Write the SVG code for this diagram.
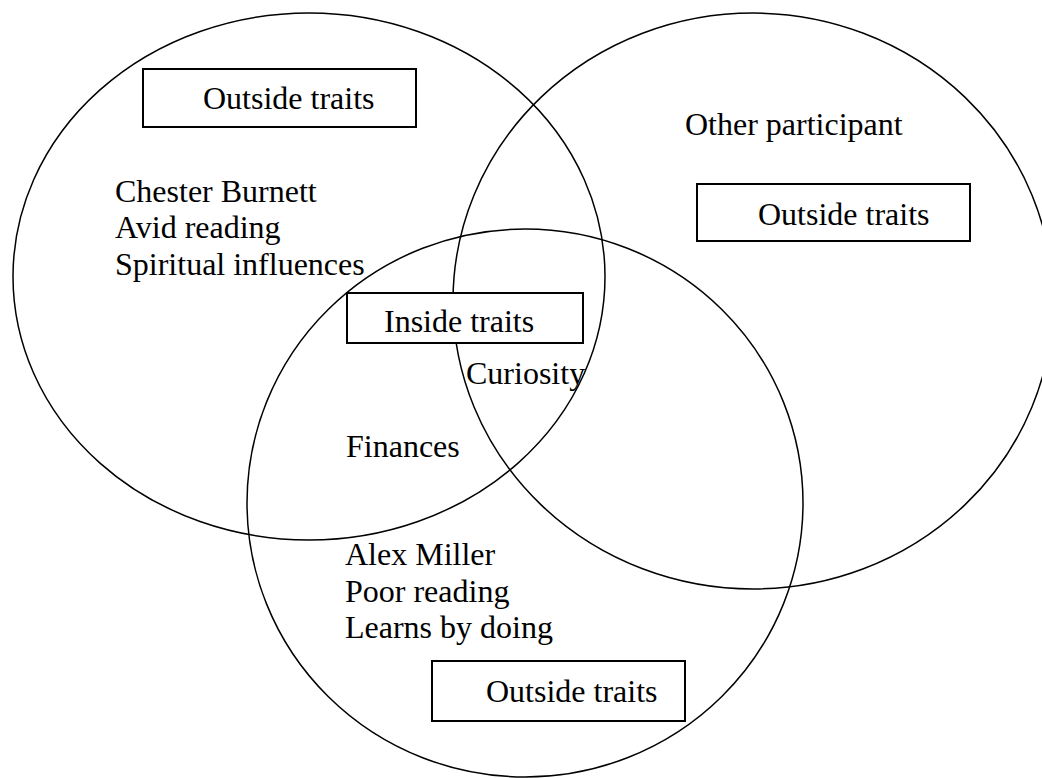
<svg xmlns="http://www.w3.org/2000/svg" width="1042" height="778" viewBox="0 0 1042 778">
  <style>
    .set { fill: none; stroke: #000; stroke-width: 1.5; }
    .box { fill: #fff; stroke: #000; stroke-width: 2; }
    text { font-family: "Liberation Serif", "Times New Roman", serif; font-size: 32px; fill: #000; }
  </style>
  <rect width="1042" height="778" fill="#fff"/>
  <g id="sets">
    <ellipse id="set-left" class="set" cx="309" cy="276.5" rx="296" ry="263.5"/>
    <ellipse id="set-right" class="set" cx="753" cy="301" rx="300" ry="288"/>
    <ellipse id="set-bottom" class="set" cx="525" cy="503" rx="278" ry="274"/>
  </g>
  <g id="connectors"></g>
  <g id="box-left-outside">
    <rect class="box" x="143" y="69" width="273" height="58"/>
    <text x="203" y="109">Outside traits</text>
  </g>
  <g id="box-right-outside">
    <rect class="box" x="697" y="184" width="273" height="57"/>
    <text x="758" y="225">Outside traits</text>
  </g>
  <g id="box-inside">
    <rect class="box" x="347" y="293" width="236" height="50"/>
    <text x="384" y="332">Inside traits</text>
  </g>
  <g id="box-bottom-outside">
    <rect class="box" x="432" y="661" width="253" height="60"/>
    <text x="486" y="702">Outside traits</text>
  </g>
  <g id="label-chester">
    <text x="115" y="202">Chester Burnett</text>
    <text x="115" y="238">Avid reading</text>
    <text x="115" y="275">Spiritual influences</text>
  </g>
  <g id="label-other">
    <text x="685" y="135">Other participant</text>
  </g>
  <g id="label-curiosity">
    <text x="466" y="384">Curiosity</text>
  </g>
  <g id="label-finances">
    <text x="346" y="457">Finances</text>
  </g>
  <g id="label-alex">
    <text x="345" y="565">Alex Miller</text>
    <text x="345" y="602">Poor reading</text>
    <text x="345" y="638">Learns by doing</text>
  </g>
</svg>
